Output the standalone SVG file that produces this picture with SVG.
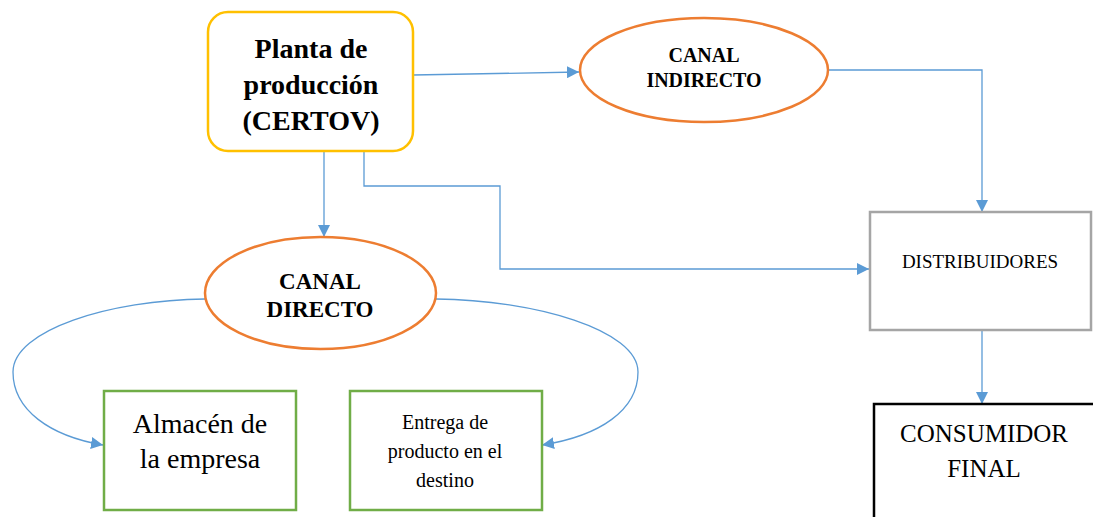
<svg xmlns="http://www.w3.org/2000/svg" width="1093" height="517" viewBox="0 0 1093 517">
<style>
.conn{fill:none;stroke:#5B9BD5;stroke-width:1.3}
text{font-family:'Liberation Serif','Times New Roman',Times,serif;fill:#000;text-anchor:middle}
.b{font-weight:bold}
.ell{fill:#fff;stroke:#ED7D31;stroke-width:2.5}
.gr{fill:#fff;stroke:#70AD47;stroke-width:2.5}
</style>
<defs>
<marker id="ah" viewBox="0 0 10 10" refX="10" refY="5" markerWidth="12" markerHeight="12" markerUnits="userSpaceOnUse" orient="auto">
<path d="M0,0 L10,5 L0,10 Z" fill="#5B9BD5"/>
</marker>
</defs>
<rect width="1093" height="517" fill="#fff"/>
<g id="connectors">
<path class="conn" d="M413,75 L579,72" marker-end="url(#ah)"/>
<path class="conn" d="M828,70 L982,70 L982,212" marker-end="url(#ah)"/>
<path class="conn" d="M324,151 L324,237" marker-end="url(#ah)"/>
<path class="conn" d="M364,151 L364,186 L500,186 L500,269 L869,269" marker-end="url(#ah)"/>
<path class="conn" d="M982,330 L982,404" marker-end="url(#ah)"/>
<path class="conn" d="M205,299 C110,300 13,330 13,372 C13,410 50,436 103,445" marker-end="url(#ah)"/>
<path class="conn" d="M436,299 C535,300 638,330 638,372 C638,410 600,436 542,445" marker-end="url(#ah)"/>
</g>
<g id="planta">
<rect x="208" y="12" width="205" height="139" rx="20" fill="#fff" stroke="#FFC000" stroke-width="2.5"/>
<text class="b" x="311" y="58" font-size="28">Planta de</text>
<text class="b" x="311" y="94" font-size="28">producción</text>
<text class="b" x="311" y="130" font-size="28">(CERTOV)</text>
</g>
<g id="canal-indirecto">
<ellipse class="ell" cx="704" cy="70" rx="124" ry="52"/>
<text class="b" x="704" y="62" font-size="20">CANAL</text>
<text class="b" x="704" y="87" font-size="20">INDIRECTO</text>
</g>
<g id="canal-directo">
<ellipse class="ell" cx="320.5" cy="293" rx="115.5" ry="56"/>
<text class="b" x="320" y="289" font-size="23">CANAL</text>
<text class="b" x="320" y="317" font-size="23">DIRECTO</text>
</g>
<g id="distribuidores">
<rect x="870" y="212" width="221" height="118" fill="#fff" stroke="#A5A5A5" stroke-width="2.5"/>
<text x="980" y="268" font-size="19">DISTRIBUIDORES</text>
</g>
<g id="consumidor">
<rect x="874" y="404" width="240" height="130" fill="#fff" stroke="#000" stroke-width="2.5"/>
<text x="984" y="442" font-size="25">CONSUMIDOR</text>
<text x="984" y="477" font-size="25">FINAL</text>
</g>
<g id="almacen">
<rect class="gr" x="104" y="391" width="192" height="119"/>
<text x="200" y="433" font-size="28">Almacén de</text>
<text x="200" y="468" font-size="28">la empresa</text>
</g>
<g id="entrega">
<rect class="gr" x="350" y="391" width="192" height="119"/>
<text x="445" y="429" font-size="20">Entrega de</text>
<text x="445" y="458" font-size="20">producto en el</text>
<text x="445" y="487" font-size="20">destino</text>
</g>
</svg>
